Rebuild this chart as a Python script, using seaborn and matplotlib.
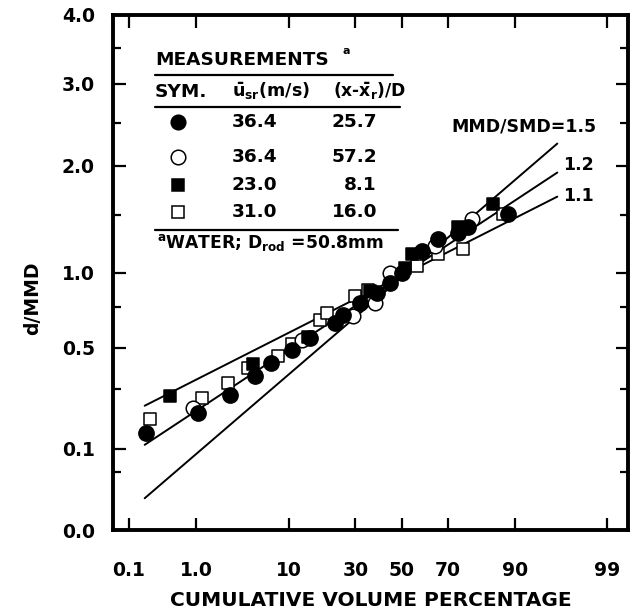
import numpy as np
import seaborn as sns
import matplotlib
matplotlib.use("Agg")
import matplotlib.pyplot as plt
from statistics import NormalDist

# cumulative volume percentage (x) and d/MMD (y) for each run
fc_pct = [0.19, 1.06, 2.6, 4.8, 7.0, 10.6, 15.0, 22.5, 25.4, 31.8, 38.9, 44.7, 50.0, 59.0, 66.1, 73.9, 77.5, 88.6]
fc_d = [0.142, 0.206, 0.276, 0.356, 0.421, 0.49, 0.556, 0.647, 0.70, 0.778, 0.848, 0.921, 0.998, 1.173, 1.28, 1.333, 1.387, 1.502]

oc_pct = [0.91, 12.9, 29.2, 38.1, 44.7, 64.7, 78.6]
oc_d = [0.224, 0.546, 0.689, 0.778, 0.998, 1.215, 1.455]

fs_pct = [0.43, 4.6, 14.5, 36.0, 51.5, 54.5, 73.9, 85.0]
fs_d = [0.269, 0.417, 0.562, 0.86, 1.037, 1.145, 1.387, 1.599]

os_pct = [0.22, 1.18, 2.48, 4.1, 8.1, 10.6, 17.7, 19.8, 29.8, 35.3, 56.7, 66.1, 75.7, 87.5]
os_d = [0.185, 0.263, 0.326, 0.396, 0.455, 0.524, 0.668, 0.711, 0.824, 0.872, 1.05, 1.145, 1.187, 1.502]

# reference lines for MMD/SMD ratios
ratio_labels = ["MMD/SMD=1.5", "1.2", "1.1"]
line_pct = [0.18, 96.1]
line_d_start = [0.0152, 0.1094, 0.2328]
line_d_end = [2.252, 1.927, 1.676]

# table in the legend box
tab_sym = ["o", "o", "s", "s"]
tab_fill = ["black", "white", "black", "white"]
tab_u = ["36.4", "36.4", "23.0", "31.0"]
tab_x = ["25.7", "57.2", "8.1", "16.0"]

xticks = [0.1, 1, 10, 30, 50, 70, 90, 99]
xticklabels = ["0.1", "1.0", "10", "30", "50", "70", "90", "99"]
yticks = [0, 0.1, 0.5, 1, 2, 3, 4]
yticklabels = ["0.0", "0.1", "0.5", "1.0", "2.0", "3.0", "4.0"]
yminor = [0.05, 0.3, 0.75, 1.5, 2.5, 3.5]

sns.set_style("ticks")
plt.rcParams["font.family"] = ["DejaVu Sans"]
plt.rcParams["font.weight"] = "bold"
plt.rcParams["mathtext.fontset"] = "dejavusans"
for k in ["text.color", "axes.labelcolor", "xtick.color", "ytick.color", "axes.edgecolor"]:
    plt.rcParams[k] = "black"

nd = NormalDist()
_inv = np.vectorize(nd.inv_cdf, otypes=[float])
_cdf = np.vectorize(nd.cdf, otypes=[float])


def prob_fwd(p):
    p = np.clip(np.asarray(p, dtype=float), 1e-7, 100 - 1e-7)
    return _inv(p / 100.0)


def prob_inv(z):
    return _cdf(np.asarray(z, dtype=float)) * 100.0


def sqrt_fwd(y):
    return np.sqrt(np.clip(np.asarray(y, dtype=float), 0, None))


def sqrt_inv(y):
    return np.asarray(y, dtype=float) ** 2


fig = plt.figure(figsize=(6.35, 6.12), dpi=100)
ax = fig.add_axes([113 / 635, 82 / 612, 515 / 635, 515 / 612])
ax.set_xscale("function", functions=(prob_fwd, prob_inv))
ax.set_yscale("function", functions=(sqrt_fwd, sqrt_inv))

for d0, d1 in zip(line_d_start, line_d_end):
    sns.lineplot(x=line_pct, y=[d0, d1], color="black", linewidth=1.4, ax=ax)

mk = dict(ax=ax, edgecolor="black", linewidth=1.1, zorder=3, legend=False)
sns.scatterplot(x=os_pct, y=os_d, marker="s", s=85, color="white", **mk)
sns.scatterplot(x=oc_pct, y=oc_d, marker="o", s=110, color="white", **mk)
sns.scatterplot(x=fs_pct, y=fs_d, marker="s", s=85, color="black", **mk)
sns.scatterplot(x=fc_pct, y=fc_d, marker="o", s=120, color="black", **mk)

ax.set_xlim(prob_inv(-3.27), prob_inv(2.563))
ax.set_ylim(0, 4)
ax.set_xticks(xticks)
ax.set_xticklabels(xticklabels)
ax.set_yticks(yticks)
ax.set_yticklabels(yticklabels)
ax.set_yticks(yminor, minor=True)
ax.xaxis.set_minor_locator(matplotlib.ticker.NullLocator())
ax.tick_params(which="both", direction="in", top=True, right=True, width=1.6)
ax.tick_params(which="major", length=9, labelsize=13.5)
ax.tick_params(which="minor", length=6)
ax.tick_params(axis="y", pad=13)
ax.tick_params(axis="x", pad=22)
for sp in ax.spines.values():
    sp.set_linewidth(2.8)

ax.set_ylabel("d/MMD", fontsize=13.5, fontweight="bold")
ax.yaxis.set_label_coords(-0.138, 0.45)
ax.set_xlabel("CUMULATIVE VOLUME PERCENTAGE", fontsize=14.5, fontweight="bold", labelpad=8)

# line labels
lab_pos = [(0.658, 0.783), (0.874, 0.709), (0.874, 0.649)]
for txt, (fx, fy) in zip(ratio_labels, lab_pos):
    ax.text(fx, fy, txt, transform=ax.transAxes, fontsize=12.5, va="center", ha="left")

# measurement table
T = ax.transAxes
fsz = 13.3
ax.text(0.0816, 0.9126, "MEASUREMENTS", transform=T, fontsize=fsz, va="center")
ax.text(0.4466, 0.930, "a", transform=T, fontsize=8, va="center")
ax.plot([0.0816, 0.5437], [0.8835, 0.8835], transform=T, color="black", lw=1.6)
ax.text(0.0816, 0.851, "SYM.", transform=T, fontsize=fsz, va="center")
ax.text(0.231, 0.851, r"$\bar{\mathbf{u}}_{\mathbf{sr}}$(m/s)", transform=T, fontsize=12.6, va="center")
ax.text(0.427, 0.851, r"(x-$\bar{\mathbf{x}}_{\mathbf{r}}$)/D", transform=T, fontsize=12.3, va="center")
ax.plot([0.0816, 0.557], [0.822, 0.822], transform=T, color="black", lw=1.6)
row_y = [0.7928, 0.7249, 0.6699, 0.6181]
for sym, fill, u, xv, ry in zip(tab_sym, tab_fill, tab_u, tab_x, row_y):
    ax.plot([0.126], [ry], marker=sym, ms=10.5 if sym == "o" else 9, mfc=fill, mec="black",
            mew=1.1, transform=T, clip_on=False)
    ax.text(0.3184, ry, u, transform=T, fontsize=fsz, va="center", ha="right")
    ax.text(0.5126, ry, xv, transform=T, fontsize=fsz, va="center", ha="right")
ax.plot([0.0816, 0.5534], [0.5825, 0.5825], transform=T, color="black", lw=1.6)
ax.text(0.0854, 0.5573, r"$^{\mathbf{a}}$WATER; D$_{\mathbf{rod}}$ =50.8mm", transform=T,
        fontsize=12.3, va="center")

fig.savefig("out.png", dpi=100)
